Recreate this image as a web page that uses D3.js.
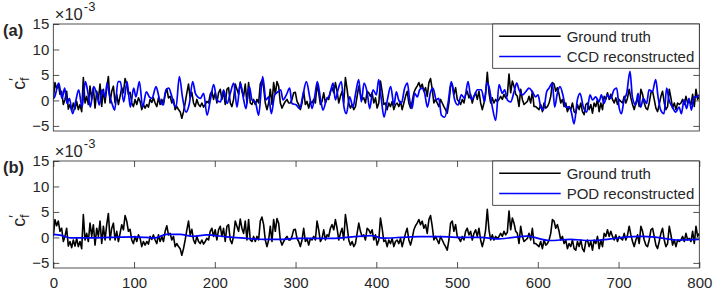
<!DOCTYPE html>
<html>
<head>
<meta charset="utf-8">
<script src="https://cdn.jsdelivr.net/npm/d3@7"></script>
<style>
  body { margin: 0; background: #fff; }
  text { font-family: "Liberation Sans", Arial, Helvetica, sans-serif; fill: #262626; }
</style>
</head>
<body>
<div id="chart"></div>
<script>
// ground truth c_f' (x1e-3), sampled evenly over 0..800
var groundTruth = [
  // 0 - 230
  0.2, 3.5, 2.3, 3.2, 1.2, 1.8, -0.8, 0.2, 1.8, -1.7,
  -0.8, -2.0, -0.5, -1.7, -0.2, -1.8, -0.8, -2.2, 4.5, -0.5,
  0.8, -0.8, 2.8, 0.2, 2.5, -1.5, 1.8, 0.2, 3.2, -1.2,
  2.2, -0.5, 2.5, 4.7, -0.5, 1.8, 2.8, -0.5, 1.2, -0.8,
  0.8, 2.5, 1.5, 4.3, 3.2, 1.2, 1.6, -0.5, -1.2, 0.2,
  -0.8, 0.5, -0.2, -1.8, -0.8, -1.5, -0.8, -1.3, 0.2, -0.4,
  0.5, -0.5, -1.2, 0.5, -0.8, 0.2, -0.8, 1.2, 2.3, 0.5,
  0.8, -0.5, 0.2, -1.8, -1.2, -1.8, -2.2, -3.5, -2.2, -0.5,
  1.5, 3.2, 0.5, 1.6, -0.5, -1.2, 0.2, -0.8, -1.2, -0.5,
  -1.3, -0.8, -0.2, -0.5, 1.2, 1.8, 0.2, 1.5, -0.5, 1.5,
  2.2, 0.2, 1.8, -0.8, 2.2, 2.5, -0.5, -1.2, 0.2, 3.2,
  2.2, 1.2,
  // 230 - 515
  3.6, 1.8, 0.8, 3.2, -0.5, 3.5, -0.5, -0.8, 0.2, -0.8,
  0.2, -0.5, 3.2, 4.0, 2.5, -0.5, -1.8, -0.5, 2.2, -0.8,
  3.5, 1.2, 3.7, 2.8, -0.5, -1.5, -0.8, -0.2, 0.2, -0.5,
  -0.5, 0.2, 1.5, 1.6, -0.2, -0.8, -1.8, -0.5, 1.8, -0.8,
  -0.2, -1.5, -0.2, -0.5, 0.2, -0.5, 3.2, 1.5, -0.8, -0.2,
  1.5, -0.5, 0.5, 0.2, 1.8, 2.5, 1.5, 3.5, 1.8, -0.5,
  0.8, 1.8, -0.5, 4.5, 2.2, -0.5, -1.5, -0.8, -1.8, -1.2,
  0.8, 2.8, 1.2, 0.2, 0.5, -0.5, 1.8, 1.5, 0.8, 1.5,
  -0.5, 0.5, -1.5, -0.5, 3.8, 1.8, -0.8, -0.5, -1.8, -0.5,
  -1.2, -0.2, -1.8, -0.8, -0.5, -1.2, -0.2, -1.8, -0.5, 0.8,
  1.8, -0.5, -1.5, -0.2, 1.5, 2.3, 2.8, 3.5, 2.5, 3.2,
  1.8, 2.5, 0.8, 3.5, 4.3, 2.2, -0.5, 0.2, -0.5, -1.2,
  0.2, -0.5, -1.2, -1.8, -2.5, -0.5, 2.8, 3.2, 1.2, 2.5,
  0.2, -0.2, -0.8, 0.2, -0.5, 1.2, 1.8, 0.5,
  // 515 - 800
  1.2, -0.5, 0.8, 1.5, 0.2, 1.8, -0.5, -1.8, -0.5, 1.5,
  5.5, 1.5, -0.5, 0.5, -0.5, 0.2, -0.2, 0.2, 0.8, 0.2,
  1.2, 0.5, 1.0, 5.2, 1.5, 3.8, 2.8, 1.2, 0.8, -1.2,
  2.2, 0.2, -0.8, -0.5, -0.2, 0.8, -0.5, 1.8, -1.2, -1.2,
  -1.5, -1.8, -0.8, -2.2, -0.5, -1.5, -1.2, -0.5, 0.8, 3.5,
  3.2, 1.8, 2.5, 1.2, -0.5, 0.2, -1.2, -0.5, -2.2, -1.2,
  -1.8, -0.5, -2.2, -2.5, -0.8, -1.8, -0.5, -2.2, -2.8, -0.8,
  -0.5, -1.8, -0.8, -2.5, -0.5, -1.2, 0.2, -2.2, -0.5, -1.8,
  0.8, 0.2, 1.5, 0.2, 1.2, 0.2, -0.5, 0.5, -0.8, 0.2,
  -0.2, -0.5, 0.8, -0.5, 0.5, 2.2, 0.5, -0.8, -1.8, -0.5,
  0.5, -1.2, 2.2, 1.2, -0.5, -1.5, -1.8, -0.5, 1.5, 1.8,
  0.2, -1.5, -2.2, -0.8, 0.8, 1.8, -0.5, -1.8, -1.2, 2.2,
  0.5, -1.5, -0.5, -1.8, -0.5, -0.8, -0.5, 0.2, -0.8, 0.8,
  -0.5, -0.2, -0.8, 1.2, -1.2, 2.2, 0.2, 0.8
];

// CCD reconstruction [time, value]
var ccdReconstructed = [
  [0, 0.4], [1.7, 0.7], [6.7, 3.4], [10.8, 0.4], [14.1, 2.4], [17.0, -0.6], [19.9, 0.4], [24.0, -2.6],
  [28.1, 0.1], [31.4, 2.1], [35.6, -1.3], [39.7, 3.7], [43.0, 1.4], [45.9, -1.3], [50.0, 2.7], [54.1, 1.1],
  [57.0, -0.9], [60.3, 2.1], [64.4, 0.7], [66.5, 3.4], [69.4, 1.1], [72.7, -0.6], [76.0, -1.9], [80.1, 3.7],
  [83.0, 3.7], [87.2, -0.3], [91.3, 3.7], [95.4, -1.3], [99.5, 2.4], [102.4, 0.7], [106.6, 3.7], [110.7, -1.3],
  [115.2, 1.7], [118.9, 0.7], [122.2, 0.4], [127.2, 2.7], [131.3, 0.4], [135.5, -0.9], [139.6, 2.1], [142.9, 2.4],
  [146.2, 1.1], [149.1, -0.6], [152.0, -1.3], [156.1, 4.7], [160.2, 0.4], [164.3, -2.3], [168.5, -0.6], [172.6, 3.7],
  [175.9, 1.4], [178.8, 0.7], [182.1, 0.4], [186.2, 1.4], [190.4, -2.9], [194.5, 0.1], [198.6, 3.1], [202.7, 0.1],
  [206.9, -0.3], [211.0, 2.1], [215.1, -0.6], [219.2, 1.4], [223.4, 3.4], [227.5, -1.3], [231.6, 3.4], [235.8, 0.1],
  [238.6, -1.6], [242.8, 2.7], [246.1, 0.1], [250.2, -0.3], [254.3, -2.9], [259.3, 4.7], [263.4, 0.1], [266.7, 0.7],
  [270.0, -2.6], [274.2, 1.1], [278.3, 1.7], [281.6, 2.1], [284.5, 0.1], [288.6, 1.1], [292.7, 2.4], [295.6, -0.6],
  [301.0, -0.9], [305.1, -1.6], [309.2, 1.1], [313.4, 3.7], [317.5, 0.7], [320.4, -1.6], [323.7, 0.7], [327.0, 3.7],
  [331.1, 0.1], [334.0, -1.9], [338.1, 0.1], [342.3, 1.1], [346.4, 3.4], [349.3, 0.1], [352.6, 2.1], [356.7, 3.7],
  [360.0, -1.3], [362.9, -2.6], [367.0, 0.7], [371.2, -1.3], [374.1, 1.1], [378.2, 4.1], [381.5, -0.3], [384.8, 3.4],
  [388.9, 1.4], [391.8, -1.6], [395.9, 2.1], [400.1, 1.1], [403.0, 4.1], [406.3, 0.1], [409.6, -3.3], [413.7, 0.1],
  [417.8, 2.7], [421.9, -0.9], [424.8, 1.7], [427.7, 0.1], [431.0, -0.6], [435.1, 2.4], [438.5, 3.4], [441.3, 0.1],
  [444.2, -1.6], [447.5, 1.4], [450.8, 0.7], [453.7, 2.1], [456.6, 2.4], [459.9, 1.4], [463.2, -1.3], [467.3, 1.7],
  [470.2, 2.4], [474.4, 0.1], [477.3, 0.4], [480.6, -2.9], [484.7, -3.3], [488.8, -0.6], [492.9, 3.7], [497.1, 0.1],
  [501.2, -0.9], [505.3, 1.1], [509.4, 0.4], [513.6, 3.7], [517.7, 0.1], [521.8, 1.1], [525.1, 2.1], [530.1, 2.1],
  [534.2, -0.3], [536.7, 3.4], [539.6, 2.7], [543.7, -1.3], [547.9, -3.9], [552.0, 3.1], [556.1, 1.4], [559.0, 2.1],
  [562.3, 0.1], [566.4, -0.3], [570.6, 1.7], [573.9, 3.4], [576.7, 2.1], [580.9, 1.1], [585.0, 1.7], [589.1, 2.4],
  [593.3, 1.7], [597.4, 0.7], [600.3, 1.1], [603.6, -1.3], [606.9, -1.9], [611.0, 1.7], [613.9, 2.4], [618.0, 3.4],
  [620.9, -1.3], [624.2, 1.4], [627.5, 2.7], [631.6, 0.7], [634.5, -1.3], [638.7, -1.3], [641.6, -2.3], [644.9, -4.6],
  [649.0, 0.1], [652.3, 1.4], [656.4, -1.3], [660.5, -2.3], [664.7, 1.1], [667.6, 0.1], [671.7, 0.7], [675.8, -0.3],
  [678.7, 1.1], [682.0, -0.6], [686.1, 1.1], [690.3, 0.4], [694.4, 2.1], [697.7, 2.4], [700.6, -1.3], [703.5, -2.6],
  [706.8, 0.1], [710.1, 1.4], [714.2, 5.7], [717.1, 0.7], [721.2, -0.9], [724.1, 1.4], [727.4, -1.3], [730.7, 0.4],
  [734.8, -0.6], [737.7, 2.1], [741.9, 1.7], [746.0, 4.1], [748.9, 0.7], [752.2, -1.9], [756.3, -2.6], [759.6, 2.4],
  [762.5, 0.1], [766.6, -1.3], [770.8, -2.3], [774.9, -1.3], [777.8, -2.6], [781.1, 0.1], [784.4, -1.6], [787.3, 0.4],
  [790.2, -1.9], [793.5, 0.7], [796.8, 0.7], [800, 1.1]
];

// POD reconstruction [time, value]
var podReconstructed = [
  [0, 0.6], [10, 0.4], [21, -0.1], [40, -0.1], [70, 0.0], [100, 0.1], [115, 0.0], [125, -0.1],
  [140, 0.6], [157, 0.6], [173, 0.2], [190, 0.5], [215, 0.1], [240, -0.2], [260, -0.4], [282, -0.4],
  [300, -0.2], [340, -0.2], [370, 0.1], [394, 0.35], [408, -0.15], [430, 0.0], [454, 0.15], [479, 0.15],
  [509, 0.0], [530, 0.0], [549, -0.3], [570, 0.0], [586, 0.25], [615, -0.6], [640, -0.4], [665, -0.6],
  [690, -0.3], [706, 0.0], [727, 0.2], [748, 0.0], [772, -0.5], [800, -0.4]
];

var xTicks = [0, 100, 200, 300, 400, 500, 600, 700, 800];
var yTicks = [-5, 0, 5, 10, 15];
var panelNames = ["(a)", "(b)"];
var legendNames = [["Ground truth", "CCD reconstructed"], ["Ground truth", "POD reconstructed"]];

var W = 714, H = 292;
var plotLeft = 53.3, plotRight = 699.3, plotH = 107;
var tops = [24, 161];

var svg = d3.select("#chart").append("svg")
  .attr("width", W).attr("height", H);

var x = d3.scaleLinear().domain([0, 800]).range([plotLeft, plotRight]);
var gtTime = d3.range(groundTruth.length).map(function(i) { return i * 800 / (groundTruth.length - 1); });
var gtPoints = groundTruth.map(function(v, i) { return [gtTime[i], v]; });

var recon = [ccdReconstructed, podReconstructed];

tops.forEach(function(top, p) {
  var y = d3.scaleLinear().domain([-6, 15]).range([top + plotH, top]);
  var g = svg.append("g");

  g.append("clipPath").attr("id", "clip" + p)
    .append("rect").attr("x", plotLeft).attr("y", top)
    .attr("width", plotRight - plotLeft).attr("height", plotH);

  var line = d3.line().x(function(d) { return x(d[0]); }).y(function(d) { return y(d[1]); });
  var smooth = d3.line().curve(d3.curveMonotoneX)
    .x(function(d) { return x(d[0]); }).y(function(d) { return y(d[1]); });

  var lines = g.append("g").attr("clip-path", "url(#clip" + p + ")");
  lines.append("path").datum(gtPoints)
    .attr("d", line).attr("fill", "none").attr("stroke", "#000")
    .attr("stroke-width", 1.6).attr("stroke-linejoin", "round");
  lines.append("path").datum(recon[p])
    .attr("d", smooth).attr("fill", "none").attr("stroke", "#0000ff")
    .attr("stroke-width", 1.7).attr("stroke-linejoin", "round");

  // axes: inward ticks
  var yLeft = g.append("g").attr("transform", "translate(" + plotLeft + ",0)")
    .call(d3.axisLeft(y).tickValues(yTicks).tickSize(-6).tickPadding(4));
  var yRight = g.append("g").attr("transform", "translate(" + plotRight + ",0)")
    .call(d3.axisRight(y).tickValues(yTicks).tickSize(-6).tickFormat(""));
  var axes = [yLeft, yRight];

  if (p === 1) {
    axes.push(g.append("g").attr("transform", "translate(0," + (top + plotH) + ")")
      .call(d3.axisBottom(x).tickValues(xTicks).tickSize(-6).tickPadding(9.5)));
    axes.push(g.append("g").attr("transform", "translate(0," + top + ")")
      .call(d3.axisTop(x).tickValues(xTicks).tickSize(-6).tickFormat("")));
  }
  axes.forEach(function(a) {
    a.select(".domain").remove();
    a.selectAll("line").attr("stroke", "#262626").attr("stroke-width", 0.8);
    a.selectAll("text").attr("fill", "#262626").style("font-size", "15px")
      .style("font-family", '"Liberation Sans", Arial, sans-serif');
  });

  // box
  g.append("rect").attr("x", plotLeft).attr("y", top)
    .attr("width", plotRight - plotLeft).attr("height", plotH)
    .attr("fill", "none").attr("stroke", "#262626").attr("stroke-width", 0.8);

  // exponent label
  var ex = g.append("text").attr("x", plotLeft + 1.5).attr("y", top - 4.5).style("font-size", "16.5px");
  ex.append("tspan").text("\u00d710");
  ex.append("tspan").attr("dy", -9).attr("dx", 1).style("font-size", "13px").text("-3");

  // panel label
  g.append("text").attr("x", 3).attr("y", top + 11.5)
    .style("font-size", "16.5px").style("font-weight", "bold").text(panelNames[p]);

  // y label c_f'
  var yl = g.append("text")
    .attr("transform", "translate(25," + (top + plotH / 2 + 6) + ") rotate(-90)")
    .attr("text-anchor", "middle").style("font-size", "18px");
  yl.append("tspan").text("c");
  yl.append("tspan").attr("dy", -6).style("font-size", "14px").text("\u2032");
  yl.append("tspan").attr("dy", 10).attr("dx", -3).style("font-size", "13px").text("f");

  // legend
  var lg = g.append("g").attr("transform", "translate(492.7," + top + ")");
  lg.append("rect").attr("width", plotRight - 492.7).attr("height", 44.3)
    .attr("fill", "#fff").attr("stroke", "#262626").attr("stroke-width", 0.8);
  var colors = ["#000", "#0000ff"];
  legendNames[p].forEach(function(name, i) {
    var ly = 12.3 + i * 20.2;
    lg.append("line").attr("x1", 6.5).attr("x2", 68).attr("y1", ly).attr("y2", ly)
      .attr("stroke", colors[i]).attr("stroke-width", 1.6);
    lg.append("text").attr("x", 74).attr("y", ly + 5.3).style("font-size", "15px").text(name);
  });
});
</script>
</body>
</html>
